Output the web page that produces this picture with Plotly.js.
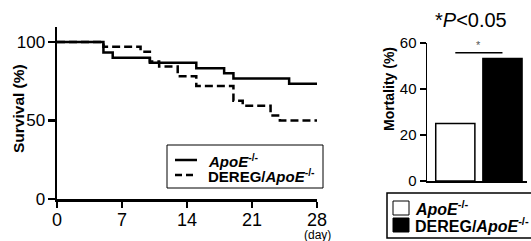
<!DOCTYPE html>
<html>
<head>
<meta charset="utf-8">
<script src="https://cdn.plot.ly/plotly-3.0.1.min.js"></script>
<style>html,body{margin:0;padding:0;background:#fff;}#chart{width:531px;height:241px;}</style>
</head>
<body>
<div id="chart"></div>
<script>
// Survival (Kaplan-Meier) data, step changes at day
const apoeDays = [0, 5, 6, 10, 15, 18, 19, 25, 28];
const apoeSurvival = [100, 93.3, 90, 86.7, 83.3, 80, 76.7, 73.3, 73.3];
const deregDays = [0, 5, 9, 10, 11, 13, 15, 19, 20, 23, 24, 28];
const deregSurvival = [100, 96.9, 93.8, 87.5, 84.4, 78.1, 71.9, 62.5, 59.4, 53.1, 50, 50];
const dayTicks = [0, 7, 14, 21, 28];
const survivalTicks = [0, 50, 100];

// Mortality bar data
const groups = ["ApoE-/-", "DEREG/ApoE-/-"];
const mortality = [25, 53.3];
const mortalityTicks = [0, 20, 40, 60];

const labelApoE = "<b><i>ApoE</i><sup>-/-</sup></b>";
const labelDereg = "<b>DEREG/<i>ApoE</i><sup>-/-</sup></b>";

const FONT = "Liberation Sans, Arial, sans-serif";

const traces = [
  {x: apoeDays, y: apoeSurvival, type: "scatter", mode: "lines", line: {shape: "hv", color: "#000", width: 2.5},
   name: labelApoE, xaxis: "x", yaxis: "y", showlegend: false},
  {x: deregDays, y: deregSurvival, type: "scatter", mode: "lines", line: {shape: "hv", color: "#000", width: 2.5, dash: "8px,4px"},
   name: labelDereg, xaxis: "x", yaxis: "y", showlegend: false},
  {x: [groups[0]], y: [mortality[0]], type: "bar", width: 0.83, marker: {color: "#fff", line: {color: "#000", width: 1.5}},
   name: labelApoE, xaxis: "x2", yaxis: "y2", showlegend: false},
  {x: [groups[1]], y: [mortality[1]], type: "bar", width: 0.83, marker: {color: "#000", line: {color: "#000", width: 1.5}},
   name: labelDereg, xaxis: "x2", yaxis: "y2", showlegend: false}
];

const W = 531, H = 241;
const px = v => v / W;
const py = v => 1 - v / H;

const shapes = [
  // significance bracket
  {type: "line", xref: "x2", yref: "y2", x0: 0, x1: 1, y0: 55.8, y1: 55.8, line: {color: "#000", width: 1.5}},
  // left legend
  {type: "rect", xref: "paper", yref: "paper", x0: px(167), x1: px(323), y0: py(188), y1: py(145), line: {color: "#000", width: 1}, fillcolor: "#fff"},
  {type: "line", xref: "paper", yref: "paper", x0: px(175), x1: px(197), y0: py(160), y1: py(160), line: {color: "#000", width: 2.5}},
  {type: "line", xref: "paper", yref: "paper", x0: px(175), x1: px(197), y0: py(175), y1: py(175), line: {color: "#000", width: 2.5, dash: "7px,4px"}},
  // right legend
  {type: "rect", xref: "paper", yref: "paper", x0: px(387), x1: px(545), y0: py(238), y1: py(193), line: {color: "#000", width: 1.5}, fillcolor: "#fff"},
  {type: "rect", xref: "paper", yref: "paper", x0: px(393), x1: px(409), y0: py(215), y1: py(201), line: {color: "#000", width: 1}, fillcolor: "#fff"},
  {type: "rect", xref: "paper", yref: "paper", x0: px(393), x1: px(409), y0: py(232), y1: py(218), line: {color: "#000", width: 1}, fillcolor: "#000"}
];

const ann = (text, x, y, size, extra) => Object.assign({text, xref: "paper", yref: "paper", x: px(x), y: py(y),
  xanchor: "center", yanchor: "middle", showarrow: false, font: {size, family: FONT, color: "#000"}}, extra || {});

const annotations = [
  ann("<b>Survival (%)</b>", 19, 109, 15.5, {textangle: -90}),
  ann("<b>Mortality (%)</b>", 389, 89, 14, {textangle: -90}),
  ann("*<i>P</i>&lt;0.05", 471, 20, 20),
  {text: "*", xref: "x2", yref: "y2", x: 0.5, y: 59, xanchor: "center", yanchor: "middle", showarrow: false,
   font: {size: 11, family: FONT, color: "#555"}},
  {text: "(day)", xref: "x", yref: "paper", x: 28, y: py(235), xanchor: "center", yanchor: "middle", showarrow: false,
   font: {size: 12, family: FONT, color: "#000"}},
  ann(labelApoE, 206, 160, 15, {xanchor: "left"}),
  ann(labelDereg, 206, 175, 15, {xanchor: "left"}),
  ann(labelApoE, 413, 208, 16, {xanchor: "left"}),
  ann(labelDereg, 413, 225, 16, {xanchor: "left"})
];

const layout = {
  width: W, height: H,
  margin: {l: 0, r: 0, t: 0, b: 0, autoexpand: false},
  paper_bgcolor: "#fff", plot_bgcolor: "#fff",
  font: {family: FONT, color: "#000"},
  barmode: "overlay",
  showlegend: false,
  xaxis: {domain: [px(57), px(317)], anchor: "y", range: [0, 28], tickvals: dayTicks,
    showline: true, linecolor: "#000", linewidth: 2.5, ticks: "outside", ticklen: 6, tickwidth: 2.5, tickcolor: "#000",
    ticklabelstandoff: -3,
    showgrid: false, zeroline: false, tickfont: {size: 18, family: FONT}},
  yaxis: {domain: [py(199), py(27)], anchor: "x", range: [0, 109.5], tickvals: survivalTicks,
    showline: true, linecolor: "#000", linewidth: 2.5, ticks: "outside", ticklen: 7, tickwidth: 2.5, tickcolor: "#000",
    ticklabelstandoff: -1,
    showgrid: false, zeroline: false, tickfont: {size: 17, family: FONT}},
  xaxis2: {domain: [px(427), px(527)], anchor: "y2", type: "category", categoryarray: groups, range: [-0.6, 1.52],
    showline: true, linecolor: "#000", linewidth: 1.5, ticks: "", showticklabels: false, showgrid: false, zeroline: false},
  yaxis2: {domain: [py(181), py(43)], anchor: "x2", range: [0, 60], tickvals: mortalityTicks,
    showline: true, linecolor: "#000", linewidth: 1.5, ticks: "outside", ticklen: 6, tickwidth: 1.5, tickcolor: "#000",
    showgrid: false, zeroline: false, tickfont: {size: 15, family: FONT}},
  shapes, annotations
};

Plotly.newPlot("chart", traces, layout, {staticPlot: true, displayModeBar: false});
</script>
</body>
</html>
